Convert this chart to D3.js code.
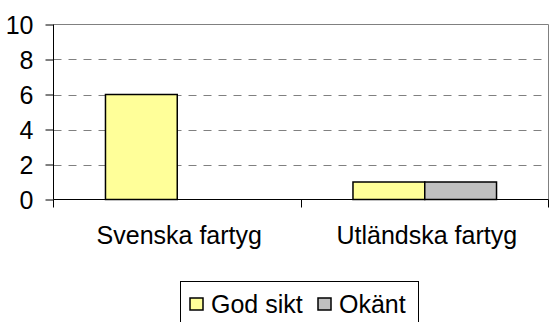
<!DOCTYPE html>
<html>
<head>
<meta charset="utf-8">
<script src="https://cdn.jsdelivr.net/npm/d3@7"></script>
<style>
  html, body { margin: 0; padding: 0; background: #fff; }
  svg { display: block; }
  text { font-family: "Liberation Sans", Arial, sans-serif; fill: #000; }
</style>
</head>
<body>
<svg id="chart" width="549" height="322"></svg>
<script>
// Chart data
const categories = ["Svenska fartyg", "Utländska fartyg"];
const seriesNames = ["God sikt", "Okänt"];
const godSikt = [6, 1];
const okant = [0, 1];
const yTicks = [0, 2, 4, 6, 8, 10];
const seriesColors = ["#FFFF99", "#C0C0C0"];

const seriesValues = [godSikt, okant];

const svg = d3.select("#chart");
const plot = { left: 53.5, right: 548.5, top: 24.5, bottom: 199.5 };

const x0 = d3.scaleBand()
  .domain(categories)
  .range([plot.left, plot.right])
  .paddingInner(0.42)
  .paddingOuter(0.21);

const x1 = d3.scaleBand()
  .domain(seriesNames)
  .range([0, x0.bandwidth()])
  .padding(0);

const y = d3.scaleLinear().domain([0, 10]).range([plot.bottom, plot.top]);

// Plot-area frame (top and right edges)
svg.append("path")
  .attr("d", `M${plot.left},${plot.top}H${plot.right}V${plot.bottom}`)
  .attr("fill", "none")
  .attr("stroke", "#808080")
  .attr("stroke-width", 1);

// Dashed horizontal gridlines
svg.append("g")
  .selectAll("line")
  .data(yTicks.filter(t => t > 0 && t < 10))
  .join("line")
  .attr("x1", plot.left)
  .attr("x2", plot.right)
  .attr("y1", d => Math.round(y(d)) + 0.5)
  .attr("y2", d => Math.round(y(d)) + 0.5)
  .attr("stroke", "#808080")
  .attr("stroke-width", 1)
  .attr("stroke-dasharray", "8,7");

// Bars
const rows = categories.map((c, i) => ({
  category: c,
  values: seriesNames.map((s, j) => ({ series: s, value: seriesValues[j][i], color: seriesColors[j] }))
}));

svg.append("g")
  .selectAll("g")
  .data(rows)
  .join("g")
  .attr("transform", d => `translate(${x0(d.category)},0)`)
  .selectAll("rect")
  .data(d => d.values.filter(v => v.value > 0))
  .join("rect")
  .attr("x", d => x1(d.series))
  .attr("y", d => y(d.value))
  .attr("width", x1.bandwidth())
  .attr("height", d => y(0) - y(d.value))
  .attr("fill", d => d.color)
  .attr("stroke", "#000")
  .attr("stroke-width", 1.5);

// Y axis
const yAxis = d3.axisLeft(y)
  .tickValues(yTicks)
  .tickSize(8)
  .tickPadding(12)
  .tickFormat(d3.format("d"));

const gy = svg.append("g")
  .attr("transform", `translate(${plot.left},0)`)
  .call(yAxis);
gy.select(".domain").attr("stroke", "#000").attr("d", `M0,${plot.top}V${plot.bottom}`);
gy.selectAll(".tick line").attr("stroke", "#000");
gy.selectAll(".tick text")
  .attr("font-size", 25)
  .attr("font-family", "Liberation Sans, Arial, sans-serif")
  .attr("dy", "0.35em");

// X axis: category boundaries carry tick marks, labels sit under band centres
const gx = svg.append("g");
gx.append("line")
  .attr("x1", plot.left).attr("x2", plot.right)
  .attr("y1", plot.bottom).attr("y2", plot.bottom)
  .attr("stroke", "#000");

const boundaries = categories.map(c => x0(c) - x0.step() * x0.paddingOuter())
  .concat([plot.right]);
gx.selectAll("line.tick")
  .data(boundaries)
  .join("line")
  .attr("class", "tick")
  .attr("x1", d => Math.round(d - 0.5) + 0.5)
  .attr("x2", d => Math.round(d - 0.5) + 0.5)
  .attr("y1", plot.bottom)
  .attr("y2", plot.bottom + 8)
  .attr("stroke", "#000");

gx.selectAll("text")
  .data(categories)
  .join("text")
  .attr("x", d => x0(d) + x0.bandwidth() / 2 + 2)
  .attr("y", 244)
  .attr("text-anchor", "middle")
  .attr("font-size", 25)
  .text(d => d);

// Legend
const legend = svg.append("g");
legend.append("rect")
  .attr("x", 180.5).attr("y", 281.5)
  .attr("width", 238).attr("height", 50)
  .attr("fill", "#fff")
  .attr("stroke", "#000")
  .attr("stroke-width", 1);

const legendX = [190, 318];
const items = legend.selectAll("g.item")
  .data(seriesNames)
  .join("g")
  .attr("class", "item")
  .attr("transform", (d, i) => `translate(${legendX[i]},298)`);
items.append("rect")
  .attr("width", 13).attr("height", 12)
  .attr("fill", (d, i) => seriesColors[i])
  .attr("stroke", "#000")
  .attr("stroke-width", 1.5);
items.append("text")
  .attr("x", 21)
  .attr("y", 15)
  .attr("font-size", 25)
  .text(d => d);
</script>
</body>
</html>
